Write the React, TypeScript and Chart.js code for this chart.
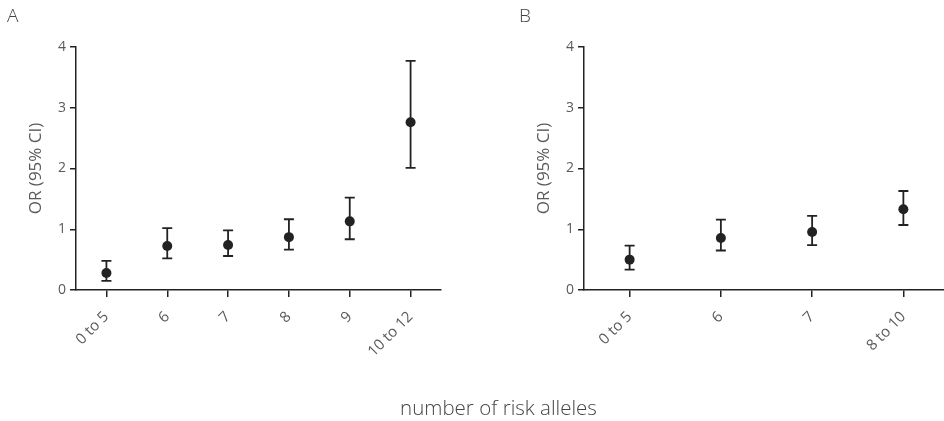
import React, { useEffect, useRef } from "react";
import { Chart, registerables } from "chart.js";

Chart.register(...registerables);

const catsA = ["0 to 5", "6", "7", "8", "9", "10 to 12"];
const orA = [0.28, 0.725, 0.74, 0.87, 1.13, 2.76];
const lowA = [0.15, 0.52, 0.56, 0.665, 0.835, 2.01];
const highA = [0.48, 1.02, 0.98, 1.165, 1.52, 3.77];

const catsB = ["0 to 5", "6", "7", "8 to 10"];
const orB = [0.5, 0.857, 0.956, 1.33];
const lowB = [0.335, 0.65, 0.74, 1.07];
const highB = [0.73, 1.16, 1.22, 1.63];

const yTicks = [0, 1, 2, 3, 4];
const yTitle = "OR (95% CI)";
const xTitle = "number of risk alleles";

const FONT = "'Open Sans', 'DejaVu Sans', sans-serif";
const INK = "#222222";
const GREY = "#5a5a5a";

const errorBarPlugin = {
  id: "errorBars",
  beforeDatasetsDraw(chart: any, _args: any, opts: any) {
    const { ctx } = chart;
    const xs = chart.scales.x;
    const ys = chart.scales.y;
    const lows: number[] = opts.low || [];
    const highs: number[] = opts.high || [];
    ctx.save();
    ctx.strokeStyle = INK;
    ctx.lineWidth = 1.8;
    for (let i = 0; i < lows.length; i++) {
      const x = xs.getPixelForValue(i);
      const y1 = ys.getPixelForValue(lows[i]);
      const y2 = ys.getPixelForValue(highs[i]);
      const cap = 5;
      ctx.beginPath();
      ctx.moveTo(x, y1);
      ctx.lineTo(x, y2);
      ctx.moveTo(x - cap, y1);
      ctx.lineTo(x + cap, y1);
      ctx.moveTo(x - cap, y2);
      ctx.lineTo(x + cap, y2);
      ctx.stroke();
    }
    ctx.restore();
  },
};

function makeConfig(cats: string[], vals: number[], low: number[], high: number[]): any {
  return {
    type: "line",
    data: {
      labels: cats,
      datasets: [
        {
          data: vals,
          showLine: false,
          pointRadius: 5,
          pointHoverRadius: 5,
          pointBackgroundColor: INK,
          pointBorderColor: INK,
          pointBorderWidth: 0,
        },
      ],
    },
    plugins: [errorBarPlugin],
    options: {
      responsive: false,
      animation: false,
      devicePixelRatio: 1,
      layout: { padding: { left: 0, right: 19, top: 47, bottom: 0 } },
      plugins: {
        legend: { display: false },
        tooltip: { enabled: false },
        errorBars: { low, high },
      },
      scales: {
        x: {
          type: "category",
          offset: true,
          grid: {
            display: true,
            drawOnChartArea: false,
            drawTicks: true,
            tickLength: 7,
            color: INK,
            lineWidth: 1.5,
          },
          border: { display: true, color: INK, width: 1.5 },
          ticks: {
            minRotation: 45,
            maxRotation: 45,
            autoSkip: false,
            color: GREY,
            padding: 11,
            font: { family: FONT, size: 15 },
          },
          afterFit: (s: any) => {
            s.height = 131;
          },
        },
        y: {
          min: yTicks[0],
          max: yTicks[yTicks.length - 1],
          afterBuildTicks: (s: any) => {
            s.ticks = yTicks.map((v) => ({ value: v }));
          },
          grid: {
            display: true,
            drawOnChartArea: false,
            drawTicks: true,
            tickLength: 6,
            color: INK,
            lineWidth: 1.5,
          },
          border: { display: true, color: INK, width: 1.5 },
          ticks: {
            color: GREY,
            padding: 4,
            font: { family: FONT, size: 14 },
          },
          title: {
            display: true,
            text: yTitle,
            color: GREY,
            font: { family: FONT, size: 17 },
            padding: { top: 26, bottom: 0 },
          },
          afterFit: (s: any) => {
            s.width = 76;
          },
        },
      },
    },
  };
}

function Panel(props: { cats: string[]; vals: number[]; low: number[]; high: number[]; left: number }) {
  const ref = useRef<HTMLCanvasElement>(null);
  useEffect(() => {
    if (!ref.current) return;
    const chart = new Chart(ref.current, makeConfig(props.cats, props.vals, props.low, props.high));
    return () => chart.destroy();
  }, []);
  return (
    <canvas
      ref={ref}
      width={460}
      height={421}
      style={{ position: "absolute", left: props.left, top: 0, width: 460, height: 421 }}
    />
  );
}

export default function App() {
  const label: React.CSSProperties = {
    position: "absolute",
    fontFamily: FONT,
    fontSize: 19,
    lineHeight: "22px",
    color: "#444",
    fontWeight: 300,
  };
  return (
    <div
      style={{
        position: "fixed",
        left: 0,
        top: 0,
        width: 944,
        height: 421,
        overflow: "hidden",
        background: "#fff",
      }}
    >
      <Panel cats={catsA} vals={orA} low={lowA} high={highA} left={0} />
      <Panel cats={catsB} vals={orB} low={lowB} high={highB} left={508} />
      <div style={{ ...label, left: 7, top: 4 }}>A</div>
      <div style={{ ...label, left: 519, top: 4 }}>B</div>
      <div
        style={{
          ...label,
          left: 0,
          width: 997,
          textAlign: "center",
          top: 395,
          fontSize: 20.5,
          lineHeight: "24px",
        }}
      >
        {xTitle}
      </div>
    </div>
  );
}
